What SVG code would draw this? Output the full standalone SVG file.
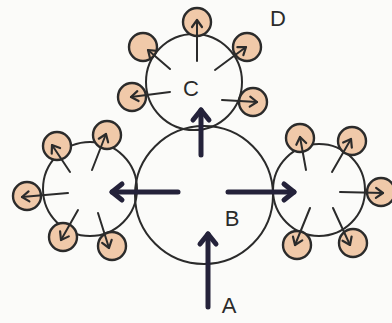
<svg xmlns="http://www.w3.org/2000/svg" width="392" height="323" viewBox="0 0 392 323">
<style>
.c{fill:none;stroke:#2b2b2b;stroke-width:2}
.s{fill:#f0c9a9;stroke:#2b2b2b;stroke-width:2.4}
.t{stroke:#2b2b2b;stroke-width:2;fill:none;stroke-linecap:round}
.k{stroke:#24223a;stroke-width:5;fill:none;stroke-linecap:round}
.l{font-family:"Liberation Sans",Arial,sans-serif;font-size:22px;fill:#2b2b2b;text-anchor:middle}
</style>
<defs>
<marker id="th" markerUnits="userSpaceOnUse" orient="auto" refX="0" refY="0" markerWidth="20" markerHeight="20" viewBox="-10 -10 20 20" overflow="visible">
<path d="M-7,-5 L0,0 L-7,5" fill="none" stroke="#2b2b2b" stroke-width="2.2" stroke-linecap="round" stroke-linejoin="round"/>
</marker>
<marker id="kh" markerUnits="userSpaceOnUse" orient="auto" refX="0" refY="0" markerWidth="30" markerHeight="30" viewBox="-15 -15 30 30" overflow="visible">
<path d="M-10,-8 L0,0 L-10,8" fill="none" stroke="#24223a" stroke-width="5" stroke-linecap="round" stroke-linejoin="round"/>
</marker>
</defs>
<rect width="392" height="323" fill="#fbfbf9"/>
<g id="B"><circle class="c" cx="204" cy="195" r="69"/><text class="l" x="232" y="226">B</text></g>
<g id="C"><circle class="c" cx="194" cy="82" r="48"/><text class="l" x="191" y="96">C</text></g>
<g id="L"><circle class="c" cx="90" cy="189" r="47"/></g>
<g id="R"><circle class="c" cx="319" cy="190" r="46"/></g>
<g id="A"><text class="l" x="229" y="313">A</text></g>
<g id="D"><text class="l" x="278" y="26">D</text></g>
<g id="top-leaves">
<circle class="s" cx="197" cy="22" r="14"/>
<circle class="s" cx="143" cy="47" r="14"/>
<circle class="s" cx="247" cy="47" r="14"/>
<circle class="s" cx="132" cy="97" r="14"/>
<circle class="s" cx="253" cy="102" r="14"/>
</g>
<g id="left-leaves">
<circle class="s" cx="57" cy="146" r="14"/>
<circle class="s" cx="107" cy="135" r="14"/>
<circle class="s" cx="27" cy="196" r="14"/>
<circle class="s" cx="63" cy="237" r="14"/>
<circle class="s" cx="112" cy="246" r="14"/>
</g>
<g id="right-leaves">
<circle class="s" cx="300" cy="138" r="14"/>
<circle class="s" cx="352" cy="141" r="14"/>
<circle class="s" cx="381" cy="192" r="14"/>
<circle class="s" cx="297" cy="245" r="14"/>
<circle class="s" cx="353" cy="243" r="14"/>
</g>
<g id="connectors">
<line class="t" x1="197" y1="61" x2="197" y2="20" marker-end="url(#th)"/>
<line class="t" x1="170" y1="69" x2="148" y2="50" marker-end="url(#th)"/>
<line class="t" x1="215" y1="70" x2="246" y2="47" marker-end="url(#th)"/>
<line class="t" x1="170" y1="92" x2="131" y2="97" marker-end="url(#th)"/>
<line class="t" x1="222" y1="100" x2="257" y2="102" marker-end="url(#th)"/>
<line class="t" x1="70" y1="172" x2="52" y2="145" marker-end="url(#th)"/>
<line class="t" x1="92" y1="170" x2="106" y2="134" marker-end="url(#th)"/>
<line class="t" x1="68" y1="193" x2="22" y2="197" marker-end="url(#th)"/>
<line class="t" x1="78" y1="210" x2="61" y2="240" marker-end="url(#th)"/>
<line class="t" x1="98" y1="213" x2="109" y2="248" marker-end="url(#th)"/>
<line class="t" x1="306" y1="170" x2="300" y2="137" marker-end="url(#th)"/>
<line class="t" x1="332" y1="172" x2="351" y2="139" marker-end="url(#th)"/>
<line class="t" x1="340" y1="192" x2="383" y2="193" marker-end="url(#th)"/>
<line class="t" x1="310" y1="208" x2="295" y2="245" marker-end="url(#th)"/>
<line class="t" x1="333" y1="208" x2="350" y2="245" marker-end="url(#th)"/>
<line class="k" x1="201" y1="155" x2="201" y2="110" marker-end="url(#kh)"/>
<line class="k" x1="178" y1="192" x2="112" y2="192" marker-end="url(#kh)"/>
<line class="k" x1="228" y1="192" x2="294" y2="192" marker-end="url(#kh)"/>
<line class="k" x1="208" y1="307" x2="208" y2="234" marker-end="url(#kh)"/>
</g>
</svg>
